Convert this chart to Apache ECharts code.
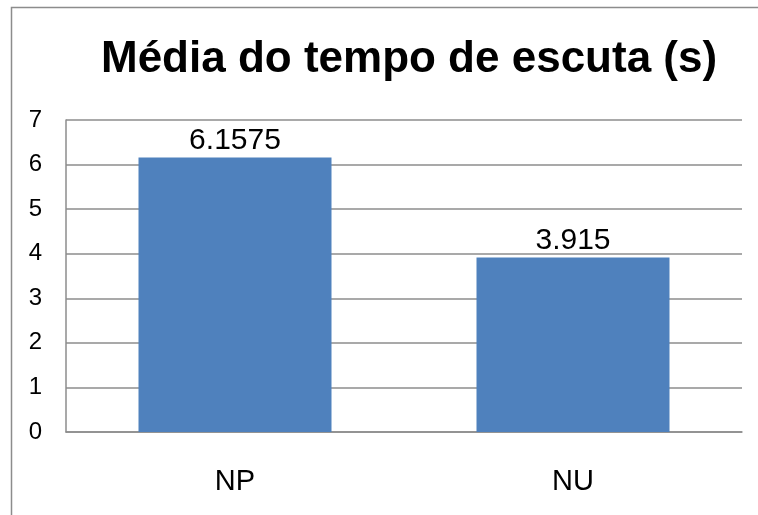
<!DOCTYPE html>
<html><head><meta charset="utf-8">
<script src="https://cdn.jsdelivr.net/npm/echarts@6/dist/echarts.min.js"></script>
<style>html,body{margin:0;padding:0;background:#fff}#c{width:758px;height:515px}</style>
</head><body><div id="c"></div>
<script>
const titleText = 'Média do tempo de escuta (s)';
const categories = ['NP', 'NU'];
const values = [6.1575, 3.915];
const yTicks = [0, 1, 2, 3, 4, 5, 6, 7];

const chart = echarts.init(document.getElementById('c'), null, {renderer: 'canvas'});
chart.setOption({
  animation: false,
  backgroundColor: '#fff',
  title: {
    text: titleText, left: 96, top: 33,
    textStyle: {fontFamily: 'Liberation Sans', fontWeight: 'bold', fontSize: 44, color: '#000'}
  },
  graphic: [{
    type: 'rect', shape: {x: 11.5, y: 7.5, width: 800, height: 600},
    style: {fill: 'none', stroke: '#8c8c8c', lineWidth: 1.5}, silent: true
  }],
  grid: {left: 66, right: 16, top: 120, bottom: 83},
  xAxis: {
    type: 'category', data: categories,
    axisLine: {lineStyle: {color: '#8c8c8c', width: 1.5}},
    axisTick: {show: false},
    axisLabel: {fontFamily: 'Liberation Sans', fontSize: 29, color: '#000', margin: 35}
  },
  yAxis: {
    type: 'value', min: 0, max: yTicks[yTicks.length - 1], interval: 1,
    axisLine: {show: true, lineStyle: {color: '#8c8c8c', width: 1.5}},
    axisTick: {show: false},
    splitLine: {lineStyle: {color: '#8c8c8c', width: 1.5}},
    axisLabel: {fontFamily: 'Liberation Sans', fontSize: 24, color: '#000', margin: 24}
  },
  series: [{
    type: 'bar', data: values, barWidth: 193,
    itemStyle: {color: '#4f81bd'},
    label: {show: true, position: 'top', distance: 2, fontFamily: 'Liberation Sans', fontSize: 30, color: '#000'}
  }]
});
</script></body></html>
